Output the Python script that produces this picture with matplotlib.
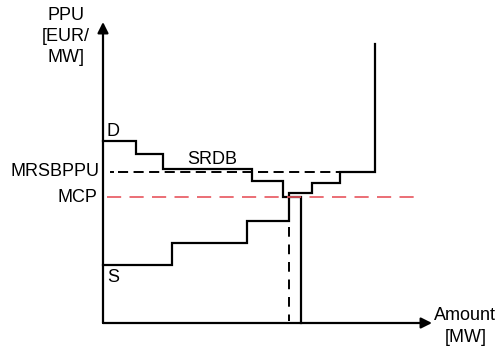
import numpy as np
import matplotlib.pyplot as plt

plt.rcParams['font.family'] = ['Liberation Sans', 'DejaVu Sans']

# schematic units: amount along x, price per unit along y (origin at the axes corner)
demand_x = [0, 33, 60, 149, 180, 198]
demand_p = [182, 169, 154, 142, 126, 0]
supply_x = [0, 69, 144, 186, 209, 237, 272]
supply_p = [58, 80, 102, 130, 140, 151, 279]
mcp = 126
mrsbppu = 151
mrsbppu_end = 237
mcp_end = 317
q_cut = 186
axis_x_max = 329
axis_y_max = 301

fig = plt.figure(figsize=(4.98, 3.52), dpi=100)
ax = fig.add_axes([0, 0, 1, 1])
ax.set_xlim(-103, 395)
ax.set_ylim(-29, 323)
ax.axis('off')

lw = 1.6
# axes with arrows
ax.annotate('', xy=(0, axis_y_max), xytext=(0, 0),
            arrowprops=dict(arrowstyle='-|>', color='k', lw=lw, mutation_scale=16,
                            shrinkA=0, shrinkB=0))
ax.annotate('', xy=(axis_x_max, 0), xytext=(0, 0),
            arrowprops=dict(arrowstyle='-|>', color='k', lw=lw, mutation_scale=16,
                            shrinkA=0, shrinkB=0))


def steps(xs, ps):
    px, py = [xs[0]], [ps[0]]
    for i in range(1, len(xs)):
        px += [xs[i], xs[i]]
        py += [ps[i - 1], ps[i]]
    return px, py


# demand staircase (drops to zero at the end)
dx, dy = steps(demand_x, demand_p)
ax.plot(dx, dy, color='k', lw=lw, solid_joinstyle='miter')

# supply staircase (rises at the end)
sx, sy = steps(supply_x, supply_p)
ax.plot(sx, sy, color='k', lw=lw, solid_joinstyle='miter')

# price lines
ax.plot([8, 10], [mrsbppu, mrsbppu], color='k', lw=1.4)
ax.plot([15, mrsbppu_end], [mrsbppu, mrsbppu], color='k', lw=1.4, dashes=(5.2, 2.8))
ax.plot([4, mcp_end], [mcp, mcp], color='#e8555e', lw=1.2, dashes=(8.5, 5))
ax.plot([q_cut, q_cut], [96, 2], color='k', lw=1.4, dashes=(5, 4))

fs = 13
ax.text(-37, 316, 'PPU\n[EUR/\nMW]', ha='center', va='top', fontsize=fs, linespacing=1.3)
ax.text(3, 192, 'D', ha='left', va='center', fontsize=fs)
ax.text(84, 163, 'SRDB', ha='left', va='center', fontsize=fs)
ax.text(-3, mrsbppu, 'MRSBPPU', ha='right', va='center', fontsize=fs)
ax.text(-6, mcp, 'MCP', ha='right', va='center', fontsize=fs)
ax.text(4, 45, 'S', ha='left', va='center', fontsize=fs)
ax.text(331, 7, 'Amount', ha='left', va='center', fontsize=fs)
ax.text(363, -15, '[MW]', ha='center', va='center', fontsize=fs)

fig.savefig('out.png', dpi=100)
